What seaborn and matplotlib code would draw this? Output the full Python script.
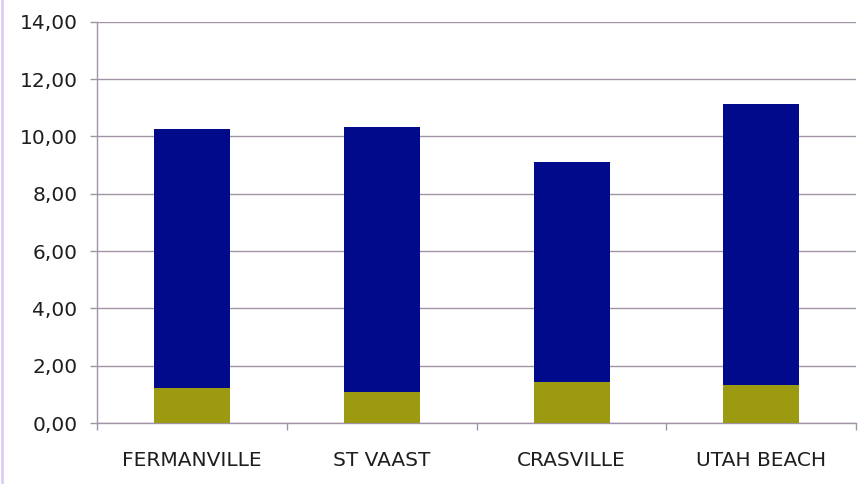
import matplotlib
matplotlib.use("Agg")
import matplotlib.pyplot as plt
import matplotlib.ticker as mticker
import pandas as pd
import seaborn as sns

# Sites and stacked values (lower segment + upper segment)
sites = ["FERMANVILLE", "ST VAAST", "CRASVILLE", "UTAH BEACH"]
lower_part = [1.22, 1.08, 1.44, 1.33]
upper_part = [9.05, 9.26, 7.67, 9.81]
totals = [lo + up for lo, up in zip(lower_part, upper_part)]
y_ticks = [0, 2, 4, 6, 8, 10, 12, 14]

df = pd.DataFrame({"site": sites, "lower": lower_part, "total": totals})

sns.set_theme(style="white")
plt.rcParams["font.family"] = ["DejaVu Sans"]

fig = plt.figure(figsize=(8.65, 4.84), dpi=100)
ax = fig.add_axes([0.112, 0.126, 0.878, 0.829])

grid_col = "#a294a8"
blue = "#020a8c"
olive = "#9c9a10"

# Full stack height first, then the lower segment on top of it
sns.barplot(data=df, x="site", y="total", color=blue, width=0.4,
            saturation=1, ax=ax, zorder=3)
sns.barplot(data=df, x="site", y="lower", color=olive, width=0.4,
            saturation=1, ax=ax, zorder=4)
for p in ax.patches:
    p.set_edgecolor("none")

ax.set_xlim(-0.5, len(sites) - 0.5)
ax.set_ylim(0, 14)
ax.set_yticks(y_ticks)
ax.yaxis.set_major_formatter(
    mticker.FuncFormatter(lambda v, _: f"{v:.2f}".replace(".", ",")))
ax.yaxis.grid(True, color=grid_col, linewidth=1.0, zorder=0)
ax.set_axisbelow(True)

ax.set_xlabel("")
ax.set_ylabel("")

for side in ["top", "right"]:
    ax.spines[side].set_visible(False)
for side in ["left", "bottom"]:
    ax.spines[side].set_color(grid_col)
    ax.spines[side].set_linewidth(1.0)

# Tick marks at category boundaries on x, short outward ticks on y
ax.set_xticks([i - 0.5 for i in range(len(sites) + 1)], minor=True)
ax.tick_params(axis="x", which="major", length=0, pad=20,
               labelsize=14.5, labelcolor="#1e1e1e")
ax.tick_params(axis="x", which="minor", length=5, width=1.0,
               color=grid_col, direction="out", bottom=True)
ax.tick_params(axis="y", which="major", length=5, width=1.0,
               color=grid_col, direction="out", left=True, pad=9,
               labelsize=14.5, labelcolor="#1e1e1e")

# Light lavender frame line on the left edge
fig.add_artist(plt.Line2D([0.002, 0.002], [0, 1], color="#dccdf4",
                          linewidth=2, transform=fig.transFigure))

fig.savefig("out.png", dpi=100, facecolor="white")
